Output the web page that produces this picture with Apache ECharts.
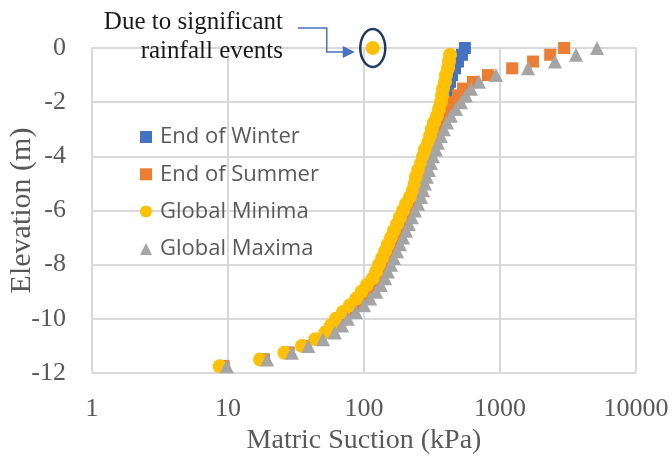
<!DOCTYPE html>
<html>
<head>
<meta charset="utf-8">
<script src="https://cdn.jsdelivr.net/npm/echarts@6/dist/echarts.min.js"></script>
<style>
  html, body { margin: 0; padding: 0; background: #fff; }
  #chart { width: 672px; height: 463px; }
</style>
</head>
<body>
<div id="chart"></div>
<script>
// Elevation of each measurement (m), 0.25 m spacing from surface down to -11.75 m
const elevations = [];
for (let i = 0; i < 48; i++) elevations.push(-i * 0.25);

// Matric suction profiles (kPa), one value per elevation
const endOfWinter = [552, 525, 491, 467, 444, 429, 415, 401, 387,
  374, 361, 344, 332, 322, 311, 296, 286, 277, 263,
  254, 249, 241, 229, 215, 204, 194, 184, 175, 166,
  158, 150, 143, 136, 129, 122, 110, 101, 92, 83,
  74, 65, 60, 54, 46, 37, 27.5, 18, 9.1];

const endOfSummer = [2960, 2340, 1750, 1230, 815, 633, 535, 491, 451, 422, 401,
  388, 368, 350, 333, 321, 306, 296, 286, 276, 267,
  259, 250, 238, 225, 214, 203, 194, 184, 175, 166,
  158, 150, 143, 136, 126, 117, 105, 95, 83, 72,
  66, 58, 48, 37, 28, 18.4, 9.3];

const globalMinima = [116, 429, 422, 415, 401, 394, 381, 375, 368, 356,
  344, 327, 316, 306, 296, 281, 272, 263, 250, 241,
  237, 229, 218, 204, 194, 184, 175, 166, 158, 150,
  143, 136, 129, 123, 116, 105, 96, 88, 79, 70,
  62, 57, 52, 44, 35, 26, 17.2, 8.7];

const globalMaxima = [5167, 3622, 2537, 1607, 934, 701, 612, 562, 517, 475,
  436, 408, 387, 368, 350, 338, 322, 311, 301, 290,
  281, 272, 263, 250, 237, 225, 214, 204, 194, 184,
  175, 166, 158, 150, 143, 133, 123, 111, 100, 87,
  76, 69, 61, 50, 39, 29.5, 19.4, 9.8];

const xTicks = [1, 10, 100, 1000, 10000];
const yTicks = [0, -2, -4, -6, -8, -10, -12];

const noteLines = ['Due to significant', 'rainfall events'];

const pairs = (vals) => vals.map((v, i) => [v, elevations[i]]);

const serifFont = '"Liberation Serif", "Times New Roman", serif';
const sansFont = '"Open Sans", "Noto Sans", sans-serif';
const axisGrey = '#595959';
const gridGrey = '#d9d9d9';

const chart = echarts.init(document.getElementById('chart'));

chart.setOption({
  animation: false,
  backgroundColor: '#fff',
  grid: {
    left: 92, right: 36, top: 48, bottom: 90,
    containLabel: false, outerBoundsMode: 'none'
  },
  xAxis: {
    type: 'log',
    logBase: 10,
    min: xTicks[0],
    max: xTicks[xTicks.length - 1],
    name: 'Matric Suction (kPa)',
    nameLocation: 'middle',
    nameGap: 54,
    nameMoveOverlap: false,
    nameTextStyle: { fontFamily: serifFont, fontSize: 28, color: axisGrey },
    axisLine: { show: true, lineStyle: { color: gridGrey, width: 2 } },
    axisTick: { show: false },
    axisLabel: {
      fontFamily: serifFont, fontSize: 26, color: axisGrey, margin: 23,
      formatter: (v) => String(v)
    },
    splitLine: { show: true, lineStyle: { color: gridGrey, width: 2 } },
    minorTick: { show: false }
  },
  yAxis: {
    type: 'value',
    min: yTicks[yTicks.length - 1],
    max: yTicks[0],
    interval: 2,
    name: 'Elevation (m)',
    nameLocation: 'middle',
    nameGap: 55,
    nameMoveOverlap: false,
    nameRotate: 90,
    nameTextStyle: { fontFamily: serifFont, fontSize: 30, color: axisGrey },
    axisLine: { show: false },
    axisTick: { show: false },
    axisLabel: { fontFamily: serifFont, fontSize: 26, color: axisGrey, margin: 26 },
    splitLine: { show: true, lineStyle: { color: gridGrey, width: 2 } }
  },
  legend: {
    orient: 'vertical',
    left: 140,
    top: 126,
    padding: 0,
    itemWidth: 12,
    itemHeight: 12,
    itemGap: 15.3,
    textStyle: {
      fontFamily: sansFont, fontSize: 22, lineHeight: 22, color: axisGrey,
      padding: [0, 0, 0, 3]
    },
    data: ['End of Winter', 'End of Summer', 'Global Minima', 'Global Maxima']
  },
  series: [
    {
      name: 'End of Winter', type: 'scatter', symbol: 'rect', symbolSize: 12,
      itemStyle: { color: '#4472c4', opacity: 1 }, data: pairs(endOfWinter)
    },
    {
      name: 'End of Summer', type: 'scatter', symbol: 'rect', symbolSize: 12,
      itemStyle: { color: '#ed7d31', opacity: 1 }, data: pairs(endOfSummer)
    },
    {
      name: 'Global Minima', type: 'scatter', symbol: 'circle', symbolSize: 14,
      itemStyle: { color: '#ffc000', opacity: 1 }, data: pairs(globalMinima)
    },
    {
      name: 'Global Maxima', type: 'scatter', symbol: 'triangle', symbolSize: 14,
      itemStyle: { color: '#a5a5a5', opacity: 1 }, data: pairs(globalMaxima)
    }
  ]
});

// Callout ring around the surface reading of the minima profile, with an elbow arrow from the note
const p = chart.convertToPixel({ seriesIndex: 2 }, [globalMinima[0], elevations[0]]);
const cx = p[0], cy = p[1];
const arrowY = cy + 4;
chart.setOption({
  graphic: [
    {
      type: 'ellipse', z: 100,
      shape: { cx: cx, cy: cy, rx: 12.5, ry: 19 },
      style: { fill: 'none', stroke: '#203864', lineWidth: 2.5 }
    },
    {
      type: 'polyline', z: 100,
      shape: { points: [[cx - 75, 28], [cx - 46, 28], [cx - 46, arrowY], [cx - 28, arrowY]] },
      style: { stroke: '#4472c4', lineWidth: 1.5, fill: 'none' }
    },
    {
      type: 'polygon', z: 100,
      shape: { points: [[cx - 30, arrowY - 6], [cx - 18, arrowY], [cx - 30, arrowY + 6]] },
      style: { fill: '#4472c4' }
    },
    {
      type: 'text', z: 100, x: 283, y: 22,
      style: { text: noteLines[0], fontFamily: serifFont, fontSize: 25, fill: '#1a1a1a',
               align: 'right', verticalAlign: 'middle' }
    },
    {
      type: 'text', z: 100, x: 283, y: 51,
      style: { text: noteLines[1], fontFamily: serifFont, fontSize: 25, fill: '#1a1a1a',
               align: 'right', verticalAlign: 'middle' }
    }
  ]
});
</script>
</body>
</html>
